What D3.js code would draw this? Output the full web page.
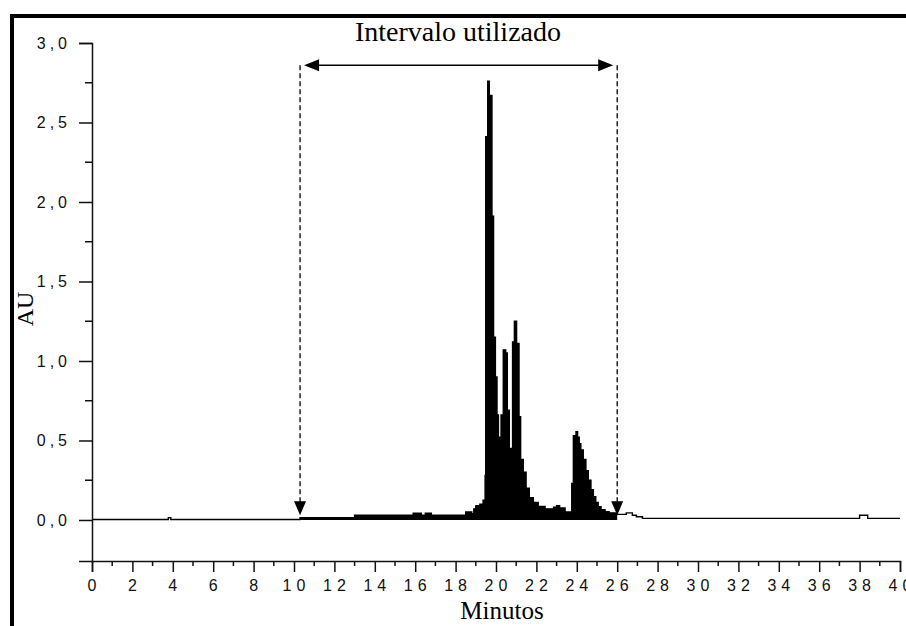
<!DOCTYPE html>
<html>
<head>
<meta charset="utf-8">
<script src="https://cdn.jsdelivr.net/npm/d3@7"></script>
<style>
  body { margin: 0; background: #fff; }
  svg { display: block; }
</style>
</head>
<body>
<div id="chart"></div>
<script>
// chromatogram (minutes, AU)
var times = [0, 3.7, 3.78, 3.9, 10.3, 13.0, 15.9, 16.3, 16.5, 16.8, 18.5, 18.71, 18.8, 18.9, 19.0, 19.2,
  19.36, 19.46, 19.49, 19.59, 19.67, 19.80, 19.88, 19.97, 20.05, 20.12, 20.18, 20.25, 20.36, 20.48, 20.56,
  20.66, 20.82, 20.91, 21.02, 21.14, 21.22, 21.35, 21.49, 21.65, 21.85, 22.09, 22.43, 22.67, 22.85, 23.0,
  23.15, 23.42, 23.75, 23.83, 23.96, 24.04, 24.12, 24.2, 24.32, 24.45, 24.57, 24.7, 24.82, 24.94, 25.06,
  25.2, 25.4, 25.6, 25.9, 26.0, 26.45, 26.75, 26.95, 27.25, 38.0, 38.4, 40];
var absorb = [0.003, 0.003, 0.015, 0.003, 0.015, 0.03, 0.042, 0.03, 0.042, 0.03, 0.05, 0.05, 0.04, 0.07, 0.09, 0.1,
  0.125, 0.28, 2.41, 2.76, 2.67, 1.91, 1.15, 0.90, 0.66, 0.52, 0.42, 0.66, 1.07, 1.05, 0.69,
  0.45, 1.12, 1.25, 1.11, 0.65, 0.38, 0.30, 0.20, 0.14, 0.11, 0.085, 0.07, 0.07, 0.08, 0.09,
  0.075, 0.05, 0.23, 0.53, 0.555, 0.52, 0.48, 0.44, 0.38, 0.31, 0.25, 0.19, 0.147, 0.11, 0.084,
  0.065, 0.052, 0.045, 0.042, 0.035, 0.045, 0.03, 0.02, 0.01, 0.03, 0.01, 0.01];

var interval = [10.3, 26.0];   // integrated range
var arrowLevel = 2.86;
var xTicks = d3.range(0, 41, 2);
var xMinor = d3.range(1, 40, 2);
var yTicks = [0, 0.5, 1, 1.5, 2, 2.5, 3];
var yMinor = [0.25, 0.75, 1.25, 1.75, 2.25, 2.75];

var width = 906, height = 626;
var ink = "#111";

var svg = d3.select("#chart").append("svg")
    .attr("width", width)
    .attr("height", height);

var x = d3.scaleLinear().domain([0, 40]).range([92, 900]);
var y = d3.scaleLinear().domain([-0.258, 3.0]).range([561, 43]);

var data = times.map(function(t, i) { return {t: t, v: absorb[i]}; });

//frame (only top and left are inside the picture)
svg.append("rect").attr("x", 10).attr("y", 14).attr("width", 896).attr("height", 4).attr("fill", "#000");
svg.append("rect").attr("x", 10).attr("y", 14).attr("width", 4).attr("height", 612).attr("fill", "#000");

//filled part of the trace inside the interval
var inside = data.filter(function(d) { return d.t >= interval[0] && d.t <= interval[1]; });
var area = d3.area()
    .x(function(d) { return x(d.t); })
    .y0(y(0))
    .y1(function(d) { return y(d.v); })
    .curve(d3.curveStepAfter);
svg.append("path")
    .datum(inside)
    .attr("fill", "#000")
    .attr("d", area);

//whole trace as a line
var line = d3.line()
    .x(function(d) { return x(d.t); })
    .y(function(d) { return y(d.v); })
    .curve(d3.curveStepAfter);
svg.append("path")
    .datum(data)
    .attr("fill", "none")
    .attr("stroke", "#000")
    .attr("stroke-width", 1.4)
    .attr("d", line);

//axes
var xAxis = svg.append("g").attr("transform", "translate(0," + y.range()[0] + ")");
xAxis.call(d3.axisBottom(x).tickValues(xTicks).tickSize(11).tickFormat(d3.format("d")));
xAxis.append("g").selectAll("line").data(xMinor).enter().append("line")
    .attr("x1", function(d) { return x(d); }).attr("x2", function(d) { return x(d); })
    .attr("y1", 0).attr("y2", 5);

var yAxis = svg.append("g").attr("transform", "translate(" + x(0) + ",0)");
yAxis.call(d3.axisLeft(y).tickValues(yTicks).tickSize(13)
    .tickFormat(function(d) { return d3.format(".1f")(d).replace(".", ","); }));
yAxis.append("g").selectAll("line").data(yMinor).enter().append("line")
    .attr("x1", 0).attr("x2", -7)
    .attr("y1", function(d) { return y(d); }).attr("y2", function(d) { return y(d); });

[xAxis, yAxis].forEach(function(g) {
    g.select(".domain").attr("stroke", ink).attr("stroke-width", 1.5);
    g.selectAll("line").attr("stroke", ink).attr("stroke-width", 1.5);
    g.selectAll("text")
        .attr("fill", ink)
        .attr("font-family", "'Liberation Sans', Arial, sans-serif")
        .style("font-size", "16px");
});
xAxis.selectAll(".tick text").attr("y", 19).style("letter-spacing", "5px").attr("dx", 2);
yAxis.selectAll(".tick text").attr("x", -21).style("letter-spacing", "4px");

//interval marks: dashed limits and double arrow
var tip = 0.03;
interval.forEach(function(t) {
    svg.append("line")
        .attr("x1", x(t)).attr("x2", x(t))
        .attr("y1", y(arrowLevel)).attr("y2", y(tip) - 12)
        .attr("stroke", "#000").attr("stroke-width", 1.3)
        .attr("stroke-dasharray", "5,3");
    svg.append("path")
        .attr("fill", "#000")
        .attr("d", "M" + (x(t) - 6) + "," + (y(tip) - 14) + "L" + (x(t) + 6) + "," + (y(tip) - 14) +
            "L" + x(t) + "," + y(tip) + "Z");
});

var ay = y(arrowLevel);
var xl = x(interval[0]) + 4, xr = x(interval[1]) - 4;
svg.append("line")
    .attr("x1", xl + 10).attr("x2", xr - 10)
    .attr("y1", ay).attr("y2", ay)
    .attr("stroke", "#000").attr("stroke-width", 1.5);
svg.append("path").attr("fill", "#000")
    .attr("d", "M" + xl + "," + ay + "L" + (xl + 15) + "," + (ay - 6) + "L" + (xl + 15) + "," + (ay + 6) + "Z");
svg.append("path").attr("fill", "#000")
    .attr("d", "M" + xr + "," + ay + "L" + (xr - 15) + "," + (ay - 6) + "L" + (xr - 15) + "," + (ay + 6) + "Z");

//titles
var serif = "'Liberation Serif', 'Times New Roman', serif";
svg.append("text")
    .attr("x", 458).attr("y", 41)
    .attr("text-anchor", "middle")
    .attr("font-family", serif)
    .style("font-size", "28px")
    .text("Intervalo utilizado");

svg.append("text")
    .attr("x", 502).attr("y", 619)
    .attr("text-anchor", "middle")
    .attr("font-family", serif)
    .style("font-size", "25px")
    .text("Minutos");

svg.append("text")
    .attr("transform", "translate(33,309) rotate(-90)")
    .attr("text-anchor", "middle")
    .attr("font-family", serif)
    .style("font-size", "24px")
    .text("AU");
</script>
</body>
</html>
